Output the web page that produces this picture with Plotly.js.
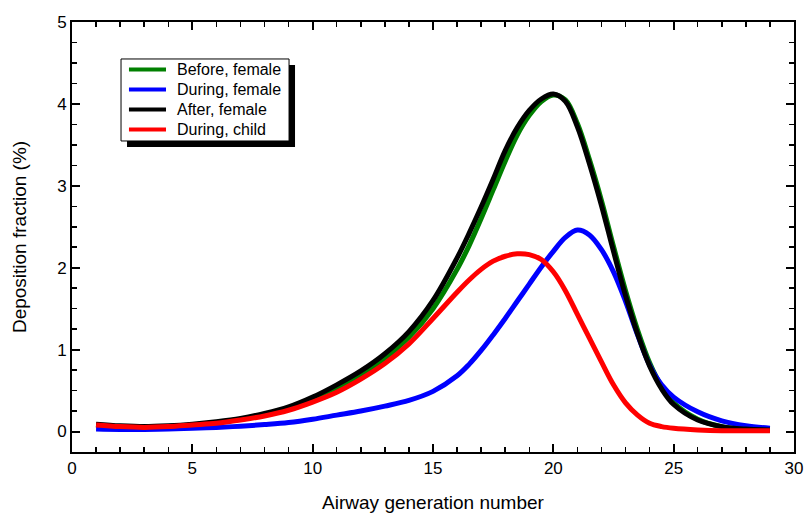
<!DOCTYPE html>
<html>
<head>
<meta charset="utf-8">
<script src="https://cdn.plot.ly/plotly-3.0.1.min.js"></script>
<style>html,body{margin:0;padding:0;background:#fff;}#chart{width:806px;height:513px;}</style>
</head>
<body>
<div id="chart"></div>
<script>
const generations = [1,2,3,4,5,6,7,8,9,10,11,12,13,14,15,16,16.5,17,17.5,18,18.5,19,19.5,20,20.5,21,21.5,22,22.5,23,23.5,24,24.5,25,26,27,28,29];
const beforeFemale = [0.08,0.06,0.05,0.06,0.08,0.11,0.15,0.20,0.28,0.39,0.53,0.69,0.89,1.15,1.50,1.98,2.27,2.60,2.95,3.30,3.62,3.86,4.03,4.11,4.05,3.76,3.32,2.82,2.26,1.72,1.24,0.84,0.55,0.35,0.15,0.06,0.03,0.02];
const duringFemale = [0.03,0.025,0.025,0.03,0.04,0.05,0.065,0.085,0.11,0.15,0.20,0.25,0.31,0.38,0.49,0.68,0.82,0.99,1.18,1.38,1.59,1.80,2.01,2.20,2.37,2.46,2.40,2.22,1.95,1.59,1.18,0.81,0.57,0.42,0.24,0.13,0.07,0.04];
const afterFemale = [0.09,0.07,0.06,0.07,0.09,0.12,0.16,0.22,0.30,0.42,0.57,0.74,0.95,1.22,1.60,2.12,2.42,2.74,3.08,3.43,3.71,3.92,4.06,4.12,4.03,3.72,3.27,2.76,2.20,1.66,1.19,0.80,0.52,0.33,0.14,0.06,0.03,0.02];
const duringChild = [0.08,0.06,0.05,0.06,0.08,0.10,0.14,0.19,0.26,0.36,0.48,0.64,0.83,1.07,1.38,1.70,1.85,1.98,2.08,2.14,2.17,2.16,2.10,1.95,1.72,1.43,1.14,0.85,0.57,0.35,0.20,0.10,0.06,0.04,0.02,0.01,0.01,0.01];
const seriesNames = ["Before, female","During, female","After, female","During, child"];
const seriesColors = ["#008000","#0000ff","#000000","#ff0000"];
const seriesValues = [beforeFemale, duringFemale, afterFemale, duringChild];

const traces = seriesValues.map((vals,i)=>({
  x: generations, y: vals, type:'scatter', mode:'lines', name: seriesNames[i],
  line:{color: seriesColors[i], width:5, shape:'spline', smoothing:1}
}));

const fontFam = 'Arial, "Liberation Sans", Helvetica, sans-serif';
const axisCommon = {
  showgrid:false, zeroline:false, showline:true, linecolor:'#000', linewidth:2,
  mirror:'ticks', ticks:'inside', ticklen:8, tickwidth:2, tickcolor:'#000',
  tickfont:{family:fontFam, size:17, color:'#000'}
};

// legend box drawn with paper-coordinate shapes and text annotations
const legendBox = {x0:0.0679, x1:0.3006, y0:0.7233, y1:0.9140};
const shadowOffset = {dx:0.0083, dy:-0.014};
const legendRowY = [0.8895, 0.8430, 0.7965, 0.7500];
const legendShapes = [
  {type:'rect', xref:'paper', yref:'paper', x0:legendBox.x0+shadowOffset.dx, x1:legendBox.x1+shadowOffset.dx,
    y0:legendBox.y0+shadowOffset.dy, y1:legendBox.y1+shadowOffset.dy, fillcolor:'#000', line:{width:0}, layer:'above'},
  {type:'rect', xref:'paper', yref:'paper', x0:legendBox.x0, x1:legendBox.x1, y0:legendBox.y0, y1:legendBox.y1,
    fillcolor:'#fff', line:{width:1, color:'#000'}, layer:'above'}
].concat(seriesNames.map((n,i)=>({type:'line', xref:'paper', yref:'paper', x0:0.0789, x1:0.1302,
    y0:legendRowY[i], y1:legendRowY[i], line:{color:seriesColors[i], width:4}, layer:'above'})));
const legendAnnots = seriesNames.map((n,i)=>({xref:'paper', yref:'paper', x:0.1425, y:legendRowY[i],
  xanchor:'left', yanchor:'middle', text:n, showarrow:false, font:{family:fontFam, size:16, color:'#000'}}));

const layout = {
  width:806, height:513,
  margin:{l:72, r:12, t:22, b:61},
  paper_bgcolor:'#fff', plot_bgcolor:'#fff',
  font:{family:fontFam, color:'#000'},
  showlegend:false,
  xaxis: Object.assign({}, axisCommon, {range:[0,30], dtick:5, tick0:0,
    minor:{dtick:1, ticklen:5, tickwidth:1.5, tickcolor:'#000', ticks:'inside'},
    title:{text:'Airway generation number', font:{family:fontFam, size:19, color:'#000'}, standoff:21}}),
  yaxis: Object.assign({}, axisCommon, {range:[-0.25,5], dtick:1, tick0:0,
    minor:{dtick:0.25, ticklen:5, tickwidth:1.5, tickcolor:'#000', ticks:'inside'},
    title:{text:'Deposition fraction (%)', font:{family:fontFam, size:19, color:'#000'}, standoff:25}}),
  shapes: legendShapes,
  annotations: legendAnnots
};
Plotly.newPlot('chart', traces, layout, {displayModeBar:false, staticPlot:true});
</script>
</body>
</html>
